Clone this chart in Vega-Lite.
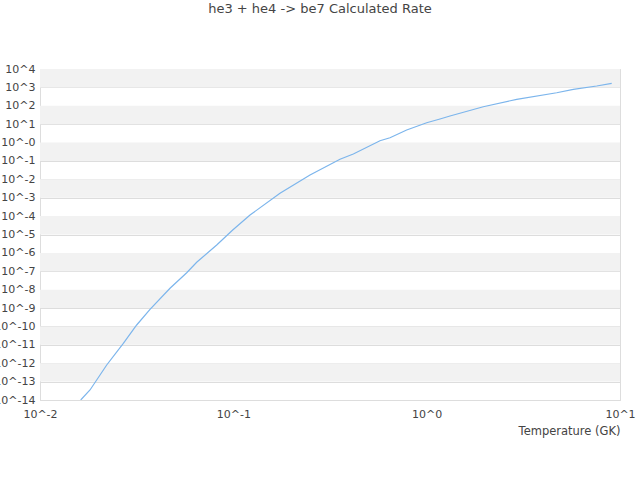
{
  "$schema": "https://vega.github.io/schema/vega-lite/v6.json",
  "autosize": "none",
  "width": 580,
  "height": 331,
  "padding": {"left": 40, "top": 69, "right": 20, "bottom": 80},
  "background": "white",
  "title": {
    "text": "he3 + he4 -> be7 Calculated Rate",
    "fontSize": 13,
    "fontWeight": "normal",
    "font": "DejaVu Sans",
    "color": "#444444",
    "anchor": "middle",
    "dx": -10,
    "offset": 47
  },
  "datasets": {
    "bands": [
      {"lo": 1e3, "hi": 1e4},
      {"lo": 1e1, "hi": 1e2},
      {"lo": 1e-1, "hi": 1e0},
      {"lo": 1e-3, "hi": 1e-2},
      {"lo": 1e-5, "hi": 1e-4},
      {"lo": 1e-7, "hi": 1e-6},
      {"lo": 1e-9, "hi": 1e-8},
      {"lo": 1e-11, "hi": 1e-10},
      {"lo": 1e-13, "hi": 1e-12}
    ],
    "rate": [
      {"T": 0.01624, "rate": 1.0e-14},
      {"T": 0.01814, "rate": 3.5e-14},
      {"T": 0.02213, "rate": 8.0e-13},
      {"T": 0.02698, "rate": 1.21e-11},
      {"T": 0.03163, "rate": 1.2e-10},
      {"T": 0.03707, "rate": 8.55e-10},
      {"T": 0.04704, "rate": 1.19e-8},
      {"T": 0.05739, "rate": 8.36e-8},
      {"T": 0.06463, "rate": 3.08e-7},
      {"T": 0.08204, "rate": 2.69e-6},
      {"T": 0.09925, "rate": 1.75e-5},
      {"T": 0.122, "rate": 1.15e-4},
      {"T": 0.1743, "rate": 1.74e-3},
      {"T": 0.2492, "rate": 0.01718},
      {"T": 0.3562, "rate": 0.1227},
      {"T": 0.4174, "rate": 0.238},
      {"T": 0.5736, "rate": 1.26},
      {"T": 0.6461, "rate": 1.83},
      {"T": 0.7881, "rate": 4.81},
      {"T": 1.0, "rate": 12.0},
      {"T": 1.172, "rate": 19.1},
      {"T": 1.32, "rate": 27.7},
      {"T": 1.963, "rate": 89},
      {"T": 2.922, "rate": 224},
      {"T": 4.705, "rate": 513},
      {"T": 5.735, "rate": 785},
      {"T": 7.578, "rate": 1186},
      {"T": 9.06, "rate": 1663}
    ]
  },
  "layer": [
    {
      "data": {"name": "bands"},
      "mark": {"type": "rect", "color": "#f2f2f2"},
      "encoding": {
        "y": {"field": "lo", "type": "quantitative", "scale": {"type": "log", "domain": [1e-14, 1e4]}},
        "y2": {"field": "hi"}
      }
    },
    {
      "data": {"name": "rate"},
      "mark": {"type": "line", "color": "#7cb5ec", "strokeWidth": 1.2, "clip": true},
      "encoding": {
        "x": {
          "field": "T",
          "type": "quantitative",
          "title": "Temperature (GK)",
          "scale": {"type": "log", "domain": [0.01, 10]},
          "axis": {
            "values": [0.01, 0.1, 1, 10],
            "labelExpr": "'10^' + round(log(datum.value) / LN10)",
            "labelFlush": false,
            "grid": false,
            "ticks": false,
            "domainColor": "#dddddd",
            "labelPadding": 8,
            "titleX": 580,
            "titleY": 31,
            "titleAlign": "right",
            "titleBaseline": "middle",
            "titleFontWeight": "normal"
          }
        },
        "y": {
          "field": "rate",
          "type": "quantitative",
          "title": null,
          "scale": {"type": "log", "domain": [1e-14, 1e4]},
          "axis": {
            "values": [1e-14, 1e-13, 1e-12, 1e-11, 1e-10, 1e-9, 1e-8, 1e-7, 1e-6, 1e-5, 1e-4, 1e-3, 1e-2, 1e-1, 1, 10, 100, 1000, 10000],
            "labelExpr": "round(log(datum.value) / LN10) == 0 ? '10^-0' : '10^' + round(log(datum.value) / LN10)",
            "labelFlush": false,
            "grid": true,
            "gridColor": "#dddddd",
            "ticks": false,
            "domainColor": "#dddddd",
            "labelPadding": 5
          }
        }
      }
    }
  ],
  "config": {
    "view": {"stroke": "#dddddd"},
    "font": "DejaVu Sans",
    "axis": {
      "labelFont": "DejaVu Sans",
      "labelFontSize": 11,
      "labelColor": "#444444",
      "titleFont": "DejaVu Sans",
      "titleFontSize": 11.5,
      "titleColor": "#444444"
    }
  }
}
